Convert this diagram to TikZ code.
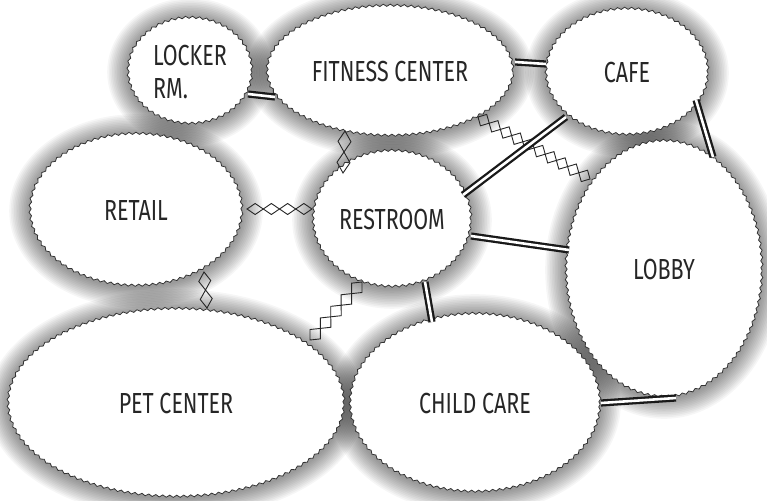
\documentclass[tikz,border=0pt]{standalone}
\usepackage{fontspec}
\setmainfont{Fira Sans}[FakeStretch=0.74]
\usetikzlibrary{shapes.geometric,decorations.pathmorphing,calc,backgrounds}

\tikzset{
  room/.style={shape=ellipse, draw=black!80, line width=0.8pt, fill=white,
    inner sep=0pt, decorate,
    decoration={snake, amplitude=1.1pt, segment length=7pt},
    font=\fontsize{29}{33}\selectfont, text=black!85},
  dbl/.style={draw=black!90, line width=2.3pt, double=white, double distance=2.6pt},
  link/.style={draw=black!85, line width=0.9pt, line join=miter},
}

% soft grey halo behind a room: #1 node, #2 x radius, #3 y radius (pt)
\newcommand\roomglow[3]{%
  \foreach \k in {1,...,13}{%
    \pgfmathsetmacro\gx{#2+1.6*\k}%
    \pgfmathsetmacro\gy{#3+1.6*\k}%
    \fill[black, opacity=0.034] (#1.center) ellipse ({\gx pt} and {\gy pt});
  }}

% chain of diamonds from #1 to #2 with #3 links, half width #4
\newcommand\diamondchain[4]{%
  \path let \p1=($(#2)-(#1)$) in
    \pgfextra{\pgfmathsetmacro\chainang{atan2(\y1,\x1)}\xdef\chainang{\chainang}%
      \pgfmathsetmacro\chainstep{veclen(\x1,\y1)/#3}\xdef\chainstep{\chainstep}};
  \begin{scope}[shift={(#1)}, rotate=\chainang]
    \foreach \k in {1,...,#3}{%
      \pgfmathsetmacro\xa{(\k-1)*\chainstep}%
      \pgfmathsetmacro\xb{(\k-0.5)*\chainstep}%
      \pgfmathsetmacro\xc{\k*\chainstep}%
      \draw[link] (\xa pt,0pt) -- (\xb pt,#4) -- (\xc pt,0pt) -- (\xb pt,-#4) -- cycle;
    }
  \end{scope}}

\begin{document}
\begin{tikzpicture}[x=1pt, y=-1pt]
\useasboundingbox (0,0) rectangle (767,500);

% rooms
\node[room, minimum width=124pt, minimum height=106pt, align=left] (locker) at (190,72) {LOCKER\\RM.};
\node[room, minimum width=246pt, minimum height=130pt] (fitness) at (390,72) {FITNESS CENTER};
\node[room, minimum width=162pt, minimum height=126pt] (cafe) at (627,73) {CAFE};
\node[room, minimum width=212pt, minimum height=152pt] (retail) at (136,211) {RETAIL};
\node[room, minimum width=158pt, minimum height=136pt] (restroom) at (392,220) {RESTROOM};
\node[room, minimum width=196pt, minimum height=256pt] (lobby) at (664,270) {LOBBY};
\node[room, minimum width=336pt, minimum height=188pt] (pet) at (176,404) {PET CENTER};
\node[room, minimum width=250pt, minimum height=178pt] (child) at (475,404) {CHILD CARE};

\begin{scope}[on background layer]
  \fill[white] (0,0) rectangle (767,500);
  \roomglow{locker}{62}{53}
  \roomglow{fitness}{123}{65}
  \roomglow{cafe}{81}{63}
  \roomglow{retail}{106}{76}
  \roomglow{restroom}{79}{68}
  \roomglow{lobby}{98}{128}
  \roomglow{pet}{168}{94}
  \roomglow{child}{125}{89}
\end{scope}

% link end points
\coordinate (fr1) at (345,131); \coordinate (fr2) at (343,173);
\coordinate (rr1) at (247,209); \coordinate (rr2) at (312,209);
\coordinate (rp1) at (204,272); \coordinate (rp2) at (207,308);
\coordinate (pr1) at (310,340); \coordinate (pr2) at (362,282);
\coordinate (fl1) at (478,117); \coordinate (fl2) at (590,179);

\coordinate (lf1) at (248,94);  \coordinate (lf2) at (275,97);
\coordinate (fc1) at (515,62);  \coordinate (fc2) at (546,64);
\coordinate (cl1) at (696,100); \coordinate (cl2) at (713,157);
\coordinate (rc1) at (463,195); \coordinate (rc2) at (566,117);
\coordinate (rl1) at (471,236); \coordinate (rl2) at (569,250);
\coordinate (rk1) at (425,282); \coordinate (rk2) at (432,322);
\coordinate (kl1) at (601,403); \coordinate (kl2) at (676,398);

% weak links
\diamondchain{fr1}{fr2}{2}{6.5pt}
\diamondchain{rr1}{rr2}{4}{5.5pt}
\diamondchain{rp1}{rp2}{2}{6pt}
\diamondchain{pr1}{pr2}{5}{7pt}
\diamondchain{fl1}{fl2}{10}{6.5pt}

% strong links
\draw[dbl] (lf1) -- (lf2);
\draw[dbl] (fc1) -- (fc2);
\draw[dbl] (cl1) -- (cl2);
\draw[dbl] (rc1) -- (rc2);
\draw[dbl] (rl1) -- (rl2);
\draw[dbl] (rk1) -- (rk2);
\draw[dbl] (kl1) -- (kl2);
\end{tikzpicture}
\end{document}
